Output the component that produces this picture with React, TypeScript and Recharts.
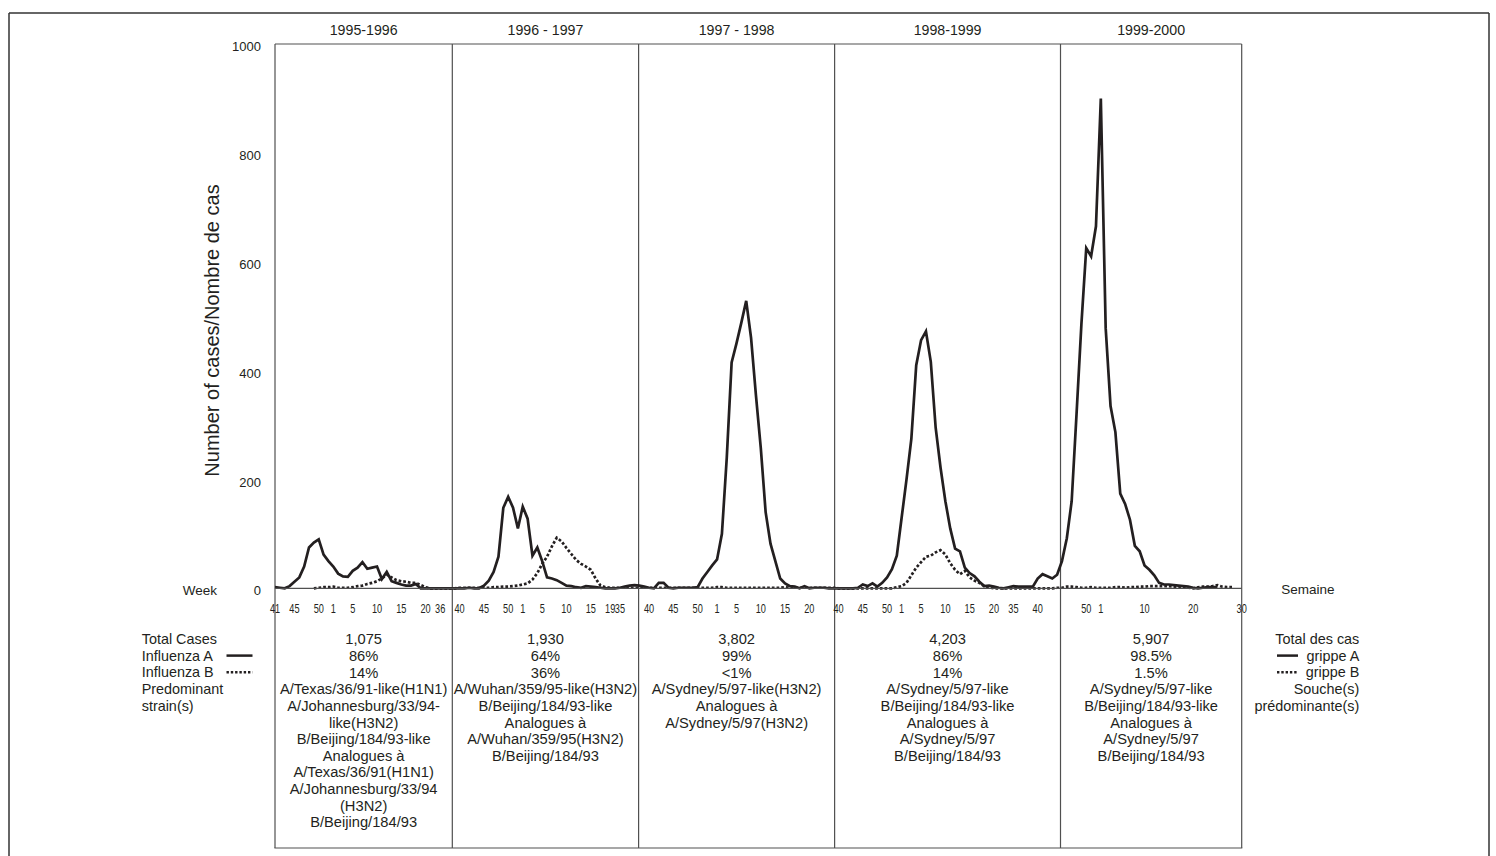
import React from 'react';
import { LineChart, Line, XAxis, YAxis, ReferenceLine, ReferenceArea } from 'recharts';

const FONT = '"Liberation Sans", Arial, Helvetica, sans-serif';
const INK = '#231f20';
const RULE = '#505050';
const TABLE_BOTTOM = 848;

// ---------- categories: surveillance weeks per season ----------
const weeks9596 = [41, 42, 43, 44, 45, 46, 47, 48, 49, 50, 51, 52, 1, 2, 3, 4, 5, 6, 7, 8, 9, 10, 11, 12, 13, 14, 15, 16, 17, 18, 19, 20, 21, 22, 36, 37, 38, 39];
const weeks9697 = [40, 41, 42, 43, 44, 45, 46, 47, 48, 49, 50, 51, 52, 1, 2, 3, 4, 5, 6, 7, 8, 9, 10, 11, 12, 13, 14, 15, 16, 17, 18, 19, 20, 35, 36, 37, 38, 39];
const weeks9798 = [39, 40, 41, 42, 43, 44, 45, 46, 47, 48, 49, 50, 51, 52, 53, 1, 2, 3, 4, 5, 6, 7, 8, 9, 10, 11, 12, 13, 14, 15, 16, 17, 18, 19, 20, 21, 22, 23, 24, 25];
const weeks9899 = [40, 41, 42, 43, 44, 45, 46, 47, 48, 49, 50, 51, 52, 1, 2, 3, 4, 5, 6, 7, 8, 9, 10, 11, 12, 13, 14, 15, 16, 17, 18, 19, 20, 21, 22, 23, 35, 36, 37, 38, 39, 40, 41, 42, 43, 44];
const weeks9900 = [45, 46, 47, 48, 49, 50, 51, 52, 1, 2, 3, 4, 5, 6, 7, 8, 9, 10, 11, 12, 13, 14, 15, 16, 17, 18, 19, 20, 21, 22, 23, 24, 25, 26, 27, 28, 29, 30];

// ---------- series: influenza A (solid) ----------
const fluA9596 = [2, 1, 0, 4, 12, 20, 40, 75, 84, 90, 62, 50, 40, 27, 22, 21, 32, 38, 48, 36, 38, 40, 17, 30, 13, 10, 7, 5, 5, 8, 0, 0, 0, 0, 0, 0, 0, 0];
const fluA9697 = [0, 0, 1, 0, 0, 5, 14, 30, 58, 148, 168, 148, 110, 150, 128, 60, 75, 50, 20, 18, 15, 10, 5, 4, 2, 1, 4, 3, 2, 1, 0, 0, 0, 1, 3, 5, 6, 5];
const fluA9798 = [3, 1, 0, 10, 10, 1, 0, 1, 1, 1, 1, 2, 18, 30, 42, 53, 100, 240, 415, 450, 488, 528, 460, 355, 258, 140, 82, 50, 18, 9, 4, 3, 0, 4, 0, 1, 1, 1, 0, 0];
const fluA9899 = [0, 0, 0, 0, 1, 7, 4, 9, 3, 10, 20, 35, 60, 130, 200, 275, 410, 456, 472, 416, 295, 222, 160, 110, 73, 68, 38, 28, 22, 12, 4, 5, 3, 1, 0, 2, 4, 3, 3, 3, 3, 18, 26, 22, 18, 25];
const fluA9900 = [50, 92, 160, 320, 485, 625, 610, 665, 900, 478, 335, 287, 174, 155, 126, 78, 68, 42, 34, 24, 10, 7, 7, 6, 5, 4, 3, 1, 0, 1, 2, 2, 2, null, null, null, null, null];

// ---------- series: influenza B (dotted) ----------
const fluB9596 = [null, null, null, null, null, null, null, null, 0, 1, 2, 2, 3, 1, 1, 1, 2, 4, 5, 8, 10, 13, 18, 25, 20, 15, 13, 12, 10, 10, 6, 2, 0, 0, 0, 0, 0, 0];
const fluB9697 = [1, 1, 1, 1, 1, 1, 1, 2, 2, 3, 3, 4, 5, 7, 9, 16, 28, 45, 58, 77, 93, 86, 74, 63, 52, 45, 40, 34, 18, 5, 2, 1, 1, 1, 1, 1, 1, 1];
const fluB9798 = [1, 1, 1, 1, 1, 1, 1, 1, 1, 1, 1, 1, 1, 1, 1, 2, 2, 1, 1, 1, 1, 1, 1, 1, 1, 1, 1, 1, 1, 2, 1, 1, 1, 1, 1, 1, 1, 1, 1, 1];
const fluB9899 = [0, 0, 0, 0, 0, 0, 0, 0, 0, 0, 0, 0, 2, 4, 10, 24, 38, 48, 58, 60, 66, 70, 62, 46, 34, 26, 32, 20, 14, 10, 4, 2, 0, 0, 0, 0, 0, 0, 0, 0, 0, 0, 0, 0, 0, 1];
const fluB9900 = [1, 3, 3, 2, 1, 1, 2, 1, 1, 1, 1, 2, 2, 1, 2, 2, 3, 3, 4, 4, 4, 4, 4, 3, 3, 2, 1, 0, 2, 3, 3, 4, 6, 3, 2, 2, null, null];

// ---------- week labels printed under each season ----------
const shown9596 = [41, 45, 50, 1, 5, 10, 15, 20, 36];
const shown9697 = [40, 45, 50, 1, 5, 10, 15, 19, 35];
const shown9798 = [40, 45, 50, 1, 5, 10, 15, 20];
const shown9899 = [40, 45, 50, 1, 5, 10, 15, 20, 35, 40];
const shown9900 = [50, 1, 10, 20, 30];

// ---------- season boundaries (in week-index units) ----------
const seasonBreaks = [0, 36.5, 74.85, 115.2, 161.7, 199];

// ---------- table texts ----------
const table9596 = ['1,075', '86%', '14%', 'A/Texas/36/91-like(H1N1)', 'A/Johannesburg/33/94-', 'like(H3N2)', 'B/Beijing/184/93-like', 'Analogues à', 'A/Texas/36/91(H1N1)', 'A/Johannesburg/33/94', '(H3N2)', 'B/Beijing/184/93'];
const table9697 = ['1,930', '64%', '36%', 'A/Wuhan/359/95-like(H3N2)', 'B/Beijing/184/93-like', 'Analogues à', 'A/Wuhan/359/95(H3N2)', 'B/Beijing/184/93'];
const table9798 = ['3,802', '99%', '<1%', 'A/Sydney/5/97-like(H3N2)', 'Analogues à', 'A/Sydney/5/97(H3N2)'];
const table9899 = ['4,203', '86%', '14%', 'A/Sydney/5/97-like', 'B/Beijing/184/93-like', 'Analogues à', 'A/Sydney/5/97', 'B/Beijing/184/93'];
const table9900 = ['5,907', '98.5%', '1.5%', 'A/Sydney/5/97-like', 'B/Beijing/184/93-like', 'Analogues à', 'A/Sydney/5/97', 'B/Beijing/184/93'];

const yTicks = [0, 200, 400, 600, 800, 1000];

const seasons = [
  { name: '1995-1996', weeks: weeks9596, a: fluA9596, b: fluB9596, shown: shown9596, table: table9596 },
  { name: '1996 - 1997', weeks: weeks9697, a: fluA9697, b: fluB9697, shown: shown9697, table: table9697 },
  { name: '1997 - 1998', weeks: weeks9798, a: fluA9798, b: fluB9798, shown: shown9798, table: table9798 },
  { name: '1998-1999', weeks: weeks9899, a: fluA9899, b: fluB9899, shown: shown9899, table: table9899 },
  { name: '1999-2000', weeks: weeks9900, a: fluA9900, b: fluB9900, shown: shown9900, table: table9900 },
];

type Row = { i: number; week: number; a: number | null; b: number | null };
const rows: Row[] = [];
const xTicks: number[] = [];
seasons.forEach((s) => {
  const start = rows.length;
  s.weeks.forEach((w, j) => rows.push({ i: rows.length, week: w, a: s.a[j], b: s.b[j] }));
  let from = 0;
  s.shown.forEach((w) => {
    const j = s.weeks.indexOf(w, from);
    if (j >= 0) {
      xTicks.push(start + j);
      from = j + 1;
    }
  });
});
const lastIndex = rows.length - 1;

const WeekTick = (props: any) => {
  const { x, y, payload } = props;
  const row = rows[Math.round(payload.value)];
  return (
    <text
      transform={`translate(${x},${y}) scale(0.68,1)`}
      textAnchor="middle"
      dy="0.71em"
      fontSize={13.5}
      fontFamily={FONT}
      fill={INK}
    >
      {row ? row.week : ''}
    </text>
  );
};

const CountTick = (props: any) => {
  const { x, y, payload } = props;
  return (
    <text x={x} y={y + 2.5} dy="0.355em" textAnchor="end" fontSize={13} fontFamily={FONT} fill={INK}>
      {payload.value}
    </text>
  );
};

const SeasonText = ({ vb, season }: { vb: any; season: typeof seasons[number] }) => {
  const x = Number(vb.x);
  const y = Number(vb.y);
  const width = Number(vb.width);
  const height = Number(vb.height);
  const cx = x + width / 2;
  const base = y + height;
  return (
    <g fontFamily={FONT} fill={INK}>
      <text x={cx} y={y - 14} dy="0.36em" textAnchor="middle" fontSize={14.2} fill={INK}>
        {season.name}
      </text>
      {season.table.map((line, k) => (
        <text key={k} x={cx} y={base + 50.7 + k * 16.65} dy="0.36em" textAnchor="middle" fontSize={14.7} fill={INK}>
          {line}
        </text>
      ))}
    </g>
  );
};

const extendedLine = (p: any) => {
  const top = Math.min(Number(p.y1), Number(p.y2));
  return <line x1={p.x1} y1={top} x2={p.x2} y2={TABLE_BOTTOM} stroke={RULE} strokeWidth={1.2} />;
};

const sideText = { fontFamily: FONT, fontSize: 14.4, fill: INK } as const;

export default function App() {
  return (
    <div style={{ position: 'absolute', left: 0, top: 0, width: 1496, height: 856, background: '#fff' }}>
      <LineChart
        width={1496}
        height={856}
        data={rows}
        margin={{ top: 44, right: 254.3, bottom: 237.7, left: 215 }}
      >
        <XAxis
          dataKey="i"
          type="number"
          domain={[0, lastIndex]}
          ticks={xTicks}
          interval={0}
          tick={<WeekTick />}
          tickLine={false}
          tickSize={6}
          tickMargin={9}
          axisLine={{ stroke: RULE, strokeWidth: 1.2 }}
          height={30}
        />
        <YAxis
          type="number"
          domain={[0, 1000]}
          ticks={yTicks}
          interval={0}
          width={60}
          axisLine={false}
          tickLine={false}
          tickSize={6}
          tickMargin={8}
          tick={<CountTick />}
        />
        {seasons.map((s, k) => (
          <ReferenceArea
            key={s.name}
            x1={seasonBreaks[k]}
            x2={seasonBreaks[k + 1]}
            y1={0}
            y2={1000}
            fill="none"
            fillOpacity={0}
            stroke="none"
            ifOverflow="visible"
            label={(props: any) => <SeasonText vb={props.viewBox ?? props} season={s} />}
          />
        ))}
        <ReferenceLine y={1000} stroke={RULE} strokeWidth={1.2} />
        {seasonBreaks.map((b) => (
          <ReferenceLine key={b} x={b} stroke={RULE} shape={extendedLine} />
        ))}
        <Line
          type="linear"
          dataKey="b"
          stroke={INK}
          strokeWidth={2.7}
          strokeDasharray="2.7 2"
          dot={false}
          activeDot={false}
          isAnimationActive={false}
          connectNulls={false}
        />
        <Line
          type="linear"
          dataKey="a"
          stroke={INK}
          strokeWidth={2.7}
          dot={false}
          activeDot={false}
          isAnimationActive={false}
          connectNulls={false}
        />
      </LineChart>
      <svg
        width={1496}
        height={856}
        style={{ position: 'absolute', left: 0, top: 0, pointerEvents: 'none' }}
      >
        {/* page frame */}
        <line x1={9} y1={13} x2={1489} y2={13} stroke="#333" strokeWidth={1.5} />
        <line x1={9} y1={13} x2={9} y2={856} stroke="#333" strokeWidth={1.5} />
        <line x1={1489} y1={13} x2={1489} y2={856} stroke="#333" strokeWidth={1.5} />
        {/* table bottom rule */}
        <line x1={274.4} y1={TABLE_BOTTOM} x2={1242.3} y2={TABLE_BOTTOM} stroke={RULE} strokeWidth={1.2} />

        <text
          transform="translate(212,330.5) rotate(-90)"
          textAnchor="middle"
          dy="0.36em"
          fontFamily={FONT}
          fontSize={20}
          fill={INK}
        >
          Number of cases/Nombre de cas
        </text>
        <text x={200} y={590} dy="0.36em" textAnchor="middle" fontFamily={FONT} fontSize={13.5} fill={INK}>
          Week
        </text>
        <text x={1308} y={589} dy="0.36em" textAnchor="middle" fontFamily={FONT} fontSize={13.5} fill={INK}>
          Semaine
        </text>

        {/* left caption column */}
        <text x={141.7} y={639} dy="0.36em" {...sideText}>Total Cases</text>
        <text x={141.7} y={655.6} dy="0.36em" {...sideText}>Influenza A</text>
        <text x={141.7} y={672.3} dy="0.36em" {...sideText}>Influenza B</text>
        <text x={141.7} y={688.9} dy="0.36em" {...sideText}>Predominant</text>
        <text x={141.7} y={705.6} dy="0.36em" {...sideText}>strain(s)</text>
        <line x1={226.5} y1={655.6} x2={252.5} y2={655.6} stroke={INK} strokeWidth={2.5} />
        <line x1={226.5} y1={672.3} x2={252.5} y2={672.3} stroke={INK} strokeWidth={2.5} strokeDasharray="2.4 1.9" />

        {/* right caption column */}
        <text x={1359.3} y={639} dy="0.36em" textAnchor="end" {...sideText}>Total des cas</text>
        <text x={1359.3} y={655.6} dy="0.36em" textAnchor="end" {...sideText}>grippe A</text>
        <text x={1359.3} y={672.3} dy="0.36em" textAnchor="end" {...sideText}>grippe B</text>
        <text x={1359.3} y={688.9} dy="0.36em" textAnchor="end" {...sideText}>Souche(s)</text>
        <text x={1359.3} y={705.6} dy="0.36em" textAnchor="end" {...sideText}>prédominante(s)</text>
        <line x1={1277} y1={655.6} x2={1298} y2={655.6} stroke={INK} strokeWidth={2.5} />
        <line x1={1277} y1={672.3} x2={1298} y2={672.3} stroke={INK} strokeWidth={2.5} strokeDasharray="2.4 1.9" />
      </svg>
    </div>
  );
}
